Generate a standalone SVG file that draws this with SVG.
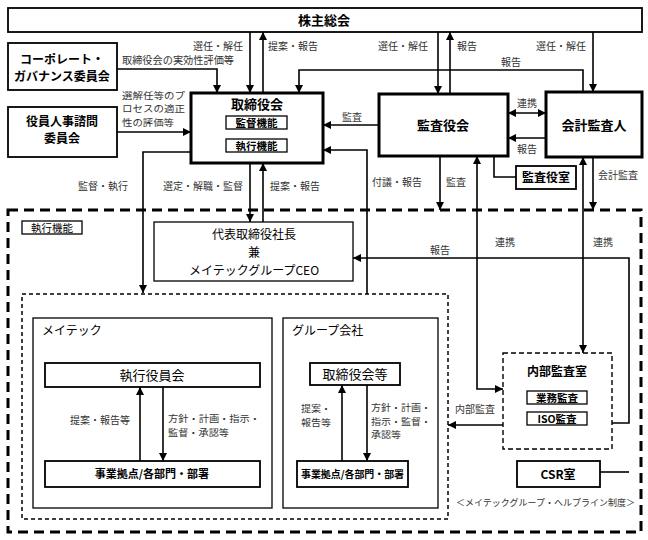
<svg xmlns="http://www.w3.org/2000/svg" width="648" height="540" viewBox="0 0 648 540">
<style>
.box{fill:#fff;stroke:#000;stroke-width:1.8}
.thick{fill:#fff;stroke:#000;stroke-width:3}
.thin{fill:#fff;stroke:#000;stroke-width:1.3}
.cont{fill:none;stroke:#000;stroke-width:1.3}
.t{font-family:"Noto Sans CJK JP","Noto Sans",sans-serif;fill:#000;text-anchor:middle}
.s{text-anchor:start}
.b{font-weight:bold}
.lb{font-family:"Noto Sans CJK JP","Noto Sans",sans-serif;fill:#333}
.ln{fill:none;stroke:#000;stroke-width:1.6}
.end{marker-end:url(#ah)}
.both{marker-start:url(#ahs);marker-end:url(#ah)}
</style>
<defs>
<marker id="ah" viewBox="0 0 10 10" refX="10" refY="5" markerWidth="8" markerHeight="8" markerUnits="userSpaceOnUse" orient="auto"><path d="M0,0 L10,5 L0,10 z" fill="#000"/></marker>
<marker id="ahs" viewBox="0 0 10 10" refX="0" refY="5" markerWidth="8" markerHeight="8" markerUnits="userSpaceOnUse" orient="auto"><path d="M10,0 L0,5 L10,10 z" fill="#000"/></marker>
</defs>
<rect width="648" height="540" fill="#fff"/>

<!-- containers -->
<g id="exec-area">
<rect x="8" y="210" width="633" height="322" fill="none" stroke="#000" stroke-width="3" stroke-dasharray="10,6"/>
<rect x="22" y="221" width="60" height="13" class="thin"/>
<text x="52" y="231.5" class="t" font-size="10.5">執行機能</text>
</g>
<g id="group-area">
<rect x="22" y="294" width="426" height="225" fill="none" stroke="#000" stroke-width="1.5" stroke-dasharray="4,3"/>
</g>
<g id="meitec">
<rect x="33" y="318" width="239" height="190" class="cont"/>
<text x="42" y="335" class="t s" font-size="12">メイテック</text>
</g>
<g id="group-companies">
<rect x="283" y="318" width="155" height="190" class="cont"/>
<text x="292" y="335" class="t s" font-size="12">グループ会社</text>
</g>

<g id="connectors">
<path class="ln end" d="M250,32 V93"/>
<path class="ln end" d="M263,93 V32"/>
<path class="ln end" d="M438,32 V94"/>
<path class="ln end" d="M450,94 V32"/>
<path class="ln end" d="M593,32 V92"/>
<path class="ln end" d="M583,92 V70 H299 V93"/>
<path class="ln end" d="M117,69 H217 V93"/>
<path class="ln end" d="M117,132 H191"/>
<path class="ln end" d="M191,152 H143 V293"/>
<path class="ln end" d="M250,163 V222"/>
<path class="ln end" d="M263,222 V163"/>
<path class="ln end" d="M379,125 H323"/>
<path class="ln end" d="M367,294 V150 H323"/>
<path class="ln end" d="M440,156 V210"/>
<path class="ln both" d="M477,156 V389 H503"/>
<path class="ln both" d="M508,113 H546"/>
<path class="ln end" d="M546,138 H508"/>
<path class="ln" d="M494,156 V177 H516"/>
<path class="ln both" d="M583,157 V353"/>
<path class="ln end" d="M593,157 V210"/>
<path class="ln end" d="M612,423 H629 V258 H353"/>
<path class="ln" d="M600,472 H629"/>
<path class="ln end" d="M503,425 H448"/>
<path class="ln end" d="M140,461 V387"/>
<path class="ln end" d="M163,387 V461"/>
<path class="ln end" d="M342,461 V385"/>
<path class="ln end" d="M367,385 V461"/>
</g>

<g id="labels" font-size="10">
<text x="243" y="50" class="lb" text-anchor="end">選任・解任</text>
<text x="268" y="50" class="lb">提案・報告</text>
<text x="428" y="50" class="lb" text-anchor="end">選任・解任</text>
<text x="457" y="50" class="lb">報告</text>
<text x="586" y="50" class="lb" text-anchor="end">選任・解任</text>
<text x="511" y="66" class="lb" text-anchor="middle">報告</text>
<text x="122" y="64" class="lb" font-size="10.2">取締役会の実効性評価等</text>
<text x="122" y="98.5" class="lb" font-size="9.2" textLength="63" lengthAdjust="spacingAndGlyphs">選解任等のプ</text>
<text x="122" y="112" class="lb" font-size="9.2" textLength="63" lengthAdjust="spacingAndGlyphs">ロセスの適正</text>
<text x="122" y="125.5" class="lb" font-size="9.2" textLength="52" lengthAdjust="spacingAndGlyphs">性の評価等</text>
<text x="78" y="190" class="lb">監督・執行</text>
<text x="243" y="190" class="lb" text-anchor="end">選定・解職・監督</text>
<text x="270" y="190" class="lb">提案・報告</text>
<text x="352" y="121" class="lb" text-anchor="middle">監査</text>
<text x="372" y="186" class="lb">付議・報告</text>
<text x="446" y="186" class="lb">監査</text>
<text x="527" y="107" class="lb" text-anchor="middle">連携</text>
<text x="527" y="153" class="lb" text-anchor="middle">報告</text>
<text x="598" y="179" class="lb">会計監査</text>
<text x="440" y="254" class="lb" text-anchor="middle">報告</text>
<text x="505" y="246" class="lb" text-anchor="middle">連携</text>
<text x="603" y="246" class="lb" text-anchor="middle">連携</text>
<text x="455" y="413" class="lb">内部監査</text>
<text x="130" y="424" class="lb" text-anchor="end">提案・報告等</text>
<text x="168" y="422" class="lb" font-size="9.5" textLength="92" lengthAdjust="spacingAndGlyphs">方針・計画・指示・</text>
<text x="168" y="436" class="lb" font-size="9.5" textLength="61" lengthAdjust="spacingAndGlyphs">監督・承認等</text>
<text x="301" y="412" class="lb" font-size="9.5" textLength="30" lengthAdjust="spacingAndGlyphs">提案・</text>
<text x="301" y="426" class="lb" font-size="9.5" textLength="30" lengthAdjust="spacingAndGlyphs">報告等</text>
<text x="371" y="411" class="lb" font-size="9.3" textLength="60" lengthAdjust="spacingAndGlyphs">方針・計画・</text>
<text x="371" y="424.5" class="lb" font-size="9.3" textLength="60" lengthAdjust="spacingAndGlyphs">指示・監督・</text>
<text x="371" y="438" class="lb" font-size="9.3" textLength="30" lengthAdjust="spacingAndGlyphs">承認等</text>
<text x="456" y="506" class="lb" font-size="9">＜メイテックグループ・ヘルプライン制度＞</text>
</g>

<g id="shareholders">
<rect x="8" y="8" width="634" height="24" class="box" stroke-width="1.5"/>
<text x="324" y="25" class="t b" font-size="13">株主総会</text>
</g>
<g id="cg-committee">
<rect x="8" y="43" width="109" height="47" class="box"/>
<text x="62" y="64" class="t b" font-size="12">コーポレート・</text>
<text x="62" y="81" class="t b" font-size="12">ガバナンス委員会</text>
</g>
<g id="nomination-committee">
<rect x="8" y="107" width="109" height="50" class="box"/>
<text x="62" y="126" class="t b" font-size="12">役員人事諮問</text>
<text x="62" y="143" class="t b" font-size="12">委員会</text>
</g>
<g id="board">
<rect x="191" y="93" width="132" height="70" class="thick"/>
<text x="257" y="109" class="t b" font-size="13">取締役会</text>
<rect x="226" y="116" width="61" height="13" class="thin"/>
<text x="256.5" y="126.5" class="t b" font-size="10.5">監督機能</text>
<rect x="226" y="139" width="61" height="13" class="thin"/>
<text x="256.5" y="149.5" class="t b" font-size="10.5">執行機能</text>
</g>
<g id="audit-board">
<rect x="379" y="94" width="129" height="62" class="thick"/>
<text x="443" y="130" class="t b" font-size="13">監査役会</text>
</g>
<g id="accounting-auditor">
<rect x="546" y="92" width="96" height="65" class="thick"/>
<text x="594" y="130" class="t b" font-size="13">会計監査人</text>
</g>
<g id="audit-office">
<rect x="516" y="166" width="60" height="23" class="box"/>
<text x="546" y="182" class="t b" font-size="12">監査役室</text>
</g>
<g id="president">
<rect x="154" y="222" width="199" height="59" class="thin"/>
<text x="254" y="239" class="t" font-size="12">代表取締役社長</text>
<text x="254" y="257" class="t" font-size="12">兼</text>
<text x="254" y="275" class="t" font-size="12">メイテックグループCEO</text>
</g>
<g id="exec-officers">
<rect x="45" y="363" width="215" height="24" class="box"/>
<text x="152" y="380" class="t" font-size="13">執行役員会</text>
</g>
<g id="meitec-units">
<rect x="45" y="461" width="215" height="26" class="box"/>
<text x="152" y="478" class="t b" font-size="11">事業拠点/各部門・部署</text>
</g>
<g id="group-board">
<rect x="310" y="363" width="90" height="22" class="box"/>
<text x="355" y="379" class="t" font-size="13">取締役会等</text>
</g>
<g id="group-units">
<rect x="297" y="461" width="111" height="26" class="box"/>
<text x="352.5" y="478" class="t b" font-size="10" textLength="103" lengthAdjust="spacingAndGlyphs">事業拠点/各部門・部署</text>
</g>
<g id="internal-audit">
<rect x="503" y="353" width="109" height="96" fill="#fff" stroke="#000" stroke-width="1.4" stroke-dasharray="5,3"/>
<text x="557" y="376" class="t b" font-size="12">内部監査室</text>
<rect x="527" y="391" width="60" height="13" class="thin"/>
<text x="557" y="401.5" class="t b" font-size="10.5">業務監査</text>
<rect x="527" y="412" width="60" height="13" class="thin"/>
<text x="557" y="422.5" class="t b" font-size="10.5">ISO監査</text>
</g>
<g id="csr">
<rect x="517" y="461" width="83" height="26" class="box"/>
<text x="558" y="479" class="t b" font-size="12">CSR室</text>
</g>
</svg>
